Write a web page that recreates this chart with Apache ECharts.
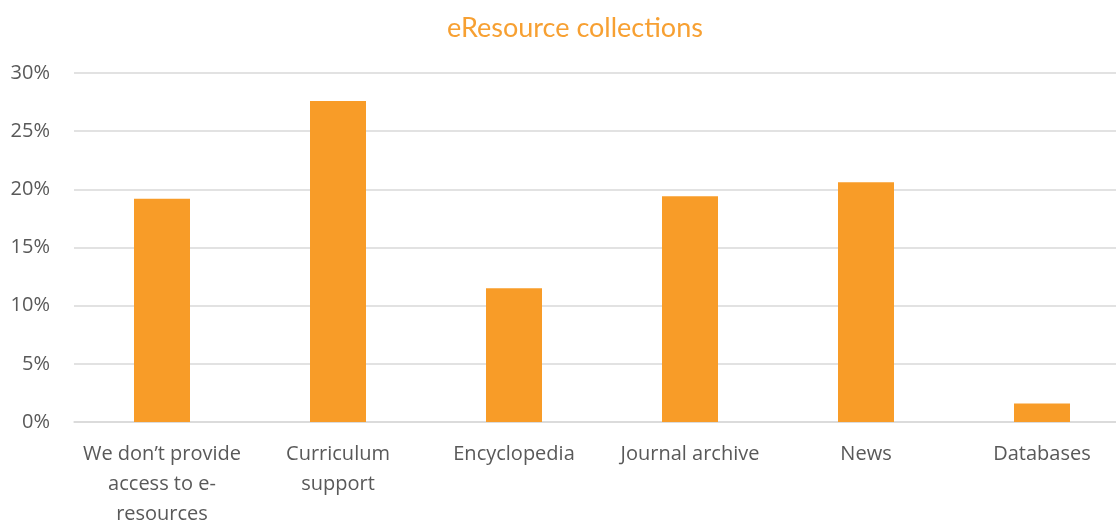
<!DOCTYPE html>
<html>
<head>
<meta charset="utf-8">
<script src="https://cdn.jsdelivr.net/npm/echarts@6/dist/echarts.min.js"></script>
<style>
	html,body{margin:0;padding:0;background:#fff}
	#chart{width:1116px;height:521px}
</style>
</head>
<body>
<div id="chart"></div>
<script>
// categories and values (percent of respondents)
var categories = ['We don\u2019t provide\naccess to e-\nresources', 'Curriculum\nsupport', 'Encyclopedia', 'Journal archive', 'News', 'Databases'];
var shares = [19.2, 27.6, 11.5, 19.4, 20.6, 1.6];
var yTicks = {min: 0, max: 30, interval: 5};

var myChart = echarts.init(document.getElementById('chart'));
var option = {
	title: {
		text: 'eResource collections',
		left: 570,
		top: 10,
		textAlign: 'center',
		textStyle: {
			color: '#F7A032',
			fontFamily: 'Lato',
			fontWeight: 'normal',
			fontSize: 27
		}
	},
	grid: {
		left: 74,
		top: 73,
		width: 1056,
		height: 349,
		outerBoundsMode: 'none',
		containLabel: false
	},
	xAxis: {
		type: 'category',
		data: categories,
		axisLine: {lineStyle: {color: '#d9d9d9', width: 1.5}},
		axisTick: {show: false},
		axisLabel: {
			color: '#595959',
			fontFamily: 'Open Sans',
			fontSize: 20,
			lineHeight: 30,
			margin: 17,
			interval: 0
		}
	},
	yAxis: {
		type: 'value',
		min: yTicks.min,
		max: yTicks.max,
		interval: yTicks.interval,
		axisLine: {show: false},
		axisTick: {show: false},
		splitLine: {lineStyle: {color: '#d9d9d9', width: 1.5}},
		axisLabel: {
			formatter: '{value}%',
			color: '#595959',
			fontFamily: 'Open Sans',
			fontSize: 20,
			margin: 24
		}
	},
	series: [{
		type: 'bar',
		data: shares,
		barWidth: 56,
		itemStyle: {color: '#F89C28'}
	}]
};
myChart.setOption(option);
</script>
</body>
</html>
